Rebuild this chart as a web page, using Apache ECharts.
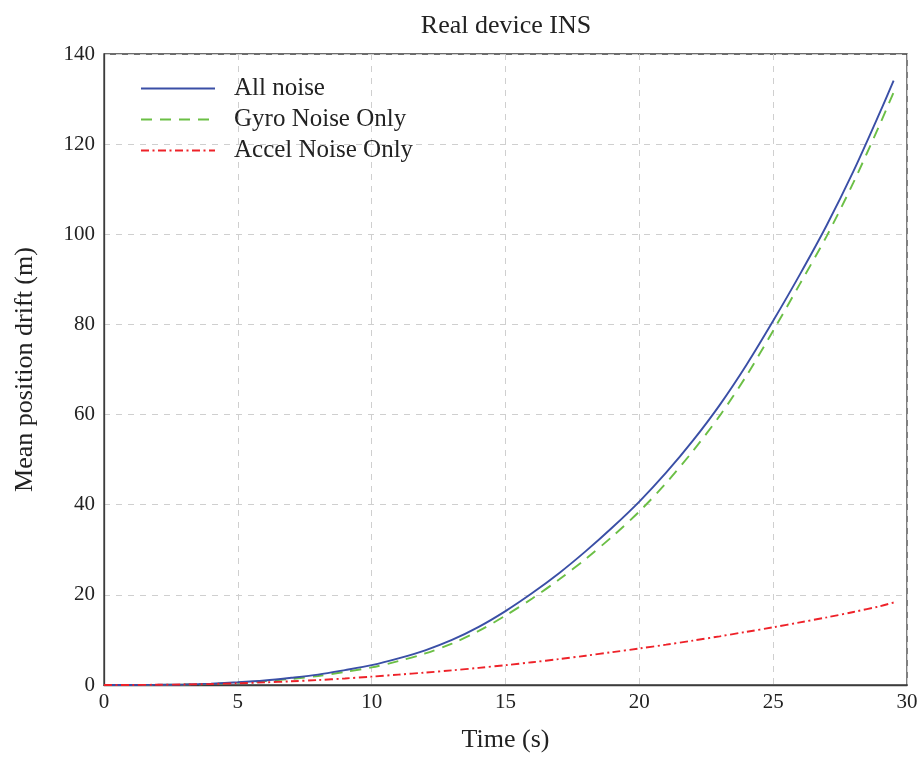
<!DOCTYPE html>
<html>
<head>
<meta charset="utf-8">
<title>Real device INS</title>
<script src="https://cdn.jsdelivr.net/npm/echarts@6/dist/echarts.min.js"></script>
<style>
  html, body { margin: 0; padding: 0; background: #ffffff; }
  #chart { width: 923px; height: 758px; }
</style>
</head>
<body>
<div id="chart"></div>
<script>
// Time samples (s)
const time = [0, 1, 2, 3, 4, 5, 6, 7, 8, 9, 10, 11, 12, 13, 14, 15, 16, 17, 18, 19,
              20, 21, 22, 23, 24, 25, 26, 27, 28, 29, 29.5];

// Mean position drift (m) for each noise configuration
const allNoise = [0, 0.01, 0.04, 0.12, 0.3, 0.6, 1.0, 1.6, 2.3, 3.3, 4.4, 5.9, 7.7, 10.0, 12.9, 16.4,
                  20.4, 24.8, 29.7, 35.0, 40.7, 47.1, 54.2, 62.1, 71.0, 80.8, 91.1, 102.0, 114.0, 127.2, 134.1];
const gyroOnly = [0, 0.01, 0.03, 0.1, 0.25, 0.5, 0.85, 1.35, 2.0, 2.9, 3.9, 5.3, 7.0, 9.2, 12.0, 15.4,
                  19.2, 23.4, 28.0, 33.0, 38.5, 44.8, 51.9, 59.7, 68.6, 78.6, 89.0, 99.6, 111.5, 124.6, 131.5];
const accelOnly = [0, 0.01, 0.05, 0.12, 0.22, 0.38, 0.58, 0.82, 1.1, 1.45, 1.85, 2.3, 2.75, 3.25, 3.8, 4.4,
                   5.05, 5.75, 6.5, 7.3, 8.1, 8.95, 9.85, 10.8, 11.8, 12.8, 13.9, 15.0, 16.2, 17.5, 18.3];

const seriesNames = ['All noise', 'Gyro Noise Only', 'Accel Noise Only'];

const FONT = '"Liberation Serif", "DejaVu Serif", serif';
const pairs = ys => time.map((t, i) => [t, ys[i]]);

const chart = echarts.init(document.getElementById('chart'), null, { renderer: 'canvas' });

chart.setOption({
  backgroundColor: '#ffffff',
  animation: false,
  textStyle: { fontFamily: FONT, color: '#222' },
  title: {
    text: 'Real device INS',
    left: 506, top: 13, textAlign: 'center', padding: 0,
    textStyle: { fontFamily: FONT, fontWeight: 'normal', fontSize: 26, color: '#222' }
  },
  grid: {
    left: 104, right: 16, top: 54, bottom: 71,
    show: true, borderColor: '#3c3c3c', borderWidth: 1.3, backgroundColor: 'transparent'
  },
  legend: {
    orient: 'vertical', left: 140, top: 76, padding: 0,
    itemWidth: 74, itemHeight: 12, itemGap: 6,
    itemStyle: { opacity: 0 },
    textStyle: { fontFamily: FONT, fontSize: 25, color: '#222', padding: [0, 0, 0, 14] },
    data: seriesNames
  },
  xAxis: {
    type: 'value', min: 0, max: 30, interval: 5,
    name: 'Time (s)', nameLocation: 'middle', nameGap: 42,
    nameTextStyle: { fontFamily: FONT, fontSize: 26, color: '#222' },
    axisLine: { show: true, lineStyle: { color: '#3c3c3c', width: 1.3 } },
    axisTick: { show: false },
    axisLabel: { fontFamily: FONT, fontSize: 21, color: '#222', margin: 7 },
    splitLine: { show: true, lineStyle: { color: '#cfcfcf', type: [6, 6], width: 1 } }
  },
  yAxis: {
    type: 'value', min: 0, max: 140, interval: 20,
    name: 'Mean position drift (m)', nameLocation: 'middle', nameGap: 66,
    nameTextStyle: { fontFamily: FONT, fontSize: 26, color: '#222' },
    axisLine: { show: true, lineStyle: { color: '#3c3c3c', width: 1.3 } },
    axisTick: { show: false },
    axisLabel: { fontFamily: FONT, fontSize: 21, color: '#222', margin: 9 },
    splitLine: { show: true, lineStyle: { color: '#cfcfcf', type: [6, 6], width: 1 } }
  },
  series: [
    {
      name: seriesNames[0], type: 'line', data: pairs(allNoise),
      symbol: 'none', smooth: 0.3,
      lineStyle: { color: '#3a4fa6', width: 1.9, type: 'solid' },
      itemStyle: { color: '#3a4fa6' }, z: 3
    },
    {
      name: seriesNames[1], type: 'line', data: pairs(gyroOnly),
      symbol: 'none', smooth: 0.3,
      lineStyle: { color: '#6bbf45', width: 1.9, type: [11, 8] },
      itemStyle: { color: '#6bbf45' }, z: 2
    },
    {
      name: seriesNames[2], type: 'line', data: pairs(accelOnly),
      symbol: 'none', smooth: 0.3,
      lineStyle: { color: '#ee2229', width: 1.9, type: [8, 3.5, 2, 3.5] },
      itemStyle: { color: '#ee2229' }, z: 4
    }
  ]
});
</script>
</body>
</html>
